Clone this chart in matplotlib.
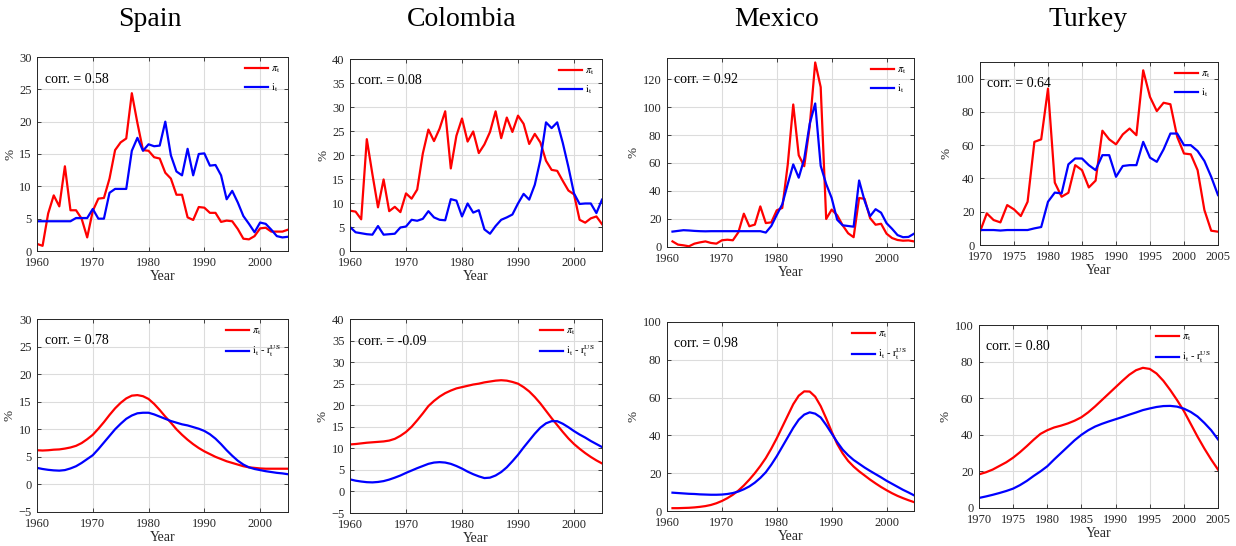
import matplotlib
matplotlib.use('Agg')
import matplotlib.pyplot as plt

plt.rcParams['font.family'] = ['Liberation Serif', 'DejaVu Serif']
plt.rcParams['mathtext.fontset'] = 'stix'

countries = ['Spain', 'Colombia', 'Mexico', 'Turkey']

# ---- top row: annual inflation (pi) and nominal rate (i) ----
years_60 = list(range(1960, 2006))
years_61 = list(range(1961, 2006))
years_70 = list(range(1970, 2006))

spain_pi = [1.1, 0.8, 5.8, 8.6, 6.9, 13.1, 6.3, 6.3, 5.0, 2.1, 6.2, 8.1, 8.2, 11.2, 15.6, 16.8,
            17.4, 24.4, 19.8, 15.6, 15.5, 14.5, 14.3, 12.1, 11.2, 8.7, 8.7, 5.2, 4.8, 6.8, 6.7,
            5.9, 5.9, 4.5, 4.7, 4.6, 3.4, 1.9, 1.8, 2.3, 3.5, 3.6, 3.0, 3.0, 3.0, 3.3]
spain_i = [4.6, 4.6, 4.6, 4.6, 4.6, 4.6, 4.6, 5.1, 5.1, 5.1, 6.5, 5.0, 5.0, 9.0, 9.6, 9.6,
           9.6, 15.5, 17.5, 15.5, 16.5, 16.2, 16.3, 20.0, 14.8, 12.3, 11.7, 15.8, 11.7, 15.0, 15.1,
           13.2, 13.3, 11.7, 8.0, 9.3, 7.5, 5.4, 4.2, 2.9, 4.4, 4.2, 3.3, 2.3, 2.1, 2.2]

colombia_pi = [8.4, 8.2, 6.6, 23.3, 16.0, 9.1, 14.9, 8.3, 9.2, 8.1, 12.0, 10.9, 12.8, 20.3, 25.3, 22.9,
               25.5, 29.1, 17.2, 24.0, 27.6, 22.8, 24.9, 20.4, 22.2, 24.8, 29.1, 23.5, 27.8, 24.8, 28.2,
               26.5, 22.3, 24.4, 22.6, 18.8, 16.9, 16.7, 14.6, 12.6, 11.8, 6.5, 5.9, 6.8, 7.2, 5.6]
colombia_i = [5.0, 3.9, 3.7, 3.5, 3.4, 5.2, 3.4, 3.5, 3.6, 4.9, 5.1, 6.5, 6.3, 6.7, 8.3, 7.0,
              6.5, 6.4, 10.8, 10.5, 7.2, 9.9, 8.0, 8.5, 4.5, 3.6, 5.2, 6.5, 7.0, 7.6, 9.9,
              11.9, 10.7, 13.8, 19.0, 26.8, 25.6, 26.8, 22.5, 17.5, 12.0, 9.8, 9.9, 9.9, 7.9, 10.7]

mexico_pi = [4.0, 1.7, 1.2, 0.5, 2.4, 3.3, 4.0, 2.9, 2.4, 4.8, 5.2, 4.8, 10.5, 23.8, 14.8,
             16.0, 29.0, 17.1, 17.6, 26.2, 27.9, 58.9, 101.8, 65.5, 57.7, 86.2, 131.8, 114.2, 20.0, 26.7,
             22.7, 15.5, 9.8, 7.0, 35.0, 34.4, 20.6, 15.9, 16.6, 9.5, 6.4, 5.0, 4.5, 4.7, 4.0]
mexico_i = [11.0, 11.5, 12.0, 11.8, 11.5, 11.3, 11.2, 11.3, 11.3, 11.3, 11.3, 11.3, 11.3, 11.3, 11.3,
            11.3, 11.3, 10.3, 15.0, 23.0, 30.5, 45.0, 59.0, 49.5, 63.0, 88.0, 102.5, 58.0, 45.0, 35.0,
            19.5, 15.5, 15.0, 14.5, 47.5, 33.0, 22.0, 27.0, 24.5, 17.0, 13.0, 8.5, 7.0, 7.2, 9.5]

turkey_pi = [8.0, 19.0, 15.0, 13.6, 24.0, 21.4, 17.4, 26.0, 62.0, 63.5, 94.0, 37.5, 29.0, 31.4, 48.0,
             45.0, 34.6, 38.7, 68.7, 63.5, 60.5, 66.5, 70.0, 66.0, 105.0, 89.0, 80.5, 85.5, 84.6, 65.0,
             55.0, 54.5, 45.0, 21.0, 8.6, 8.0]
turkey_i = [9.0, 9.0, 9.0, 8.7, 9.0, 9.0, 9.0, 9.0, 10.0, 10.8, 26.0, 31.5, 31.0, 48.5, 52.0,
            52.0, 48.0, 45.0, 54.0, 54.0, 41.0, 47.5, 48.0, 48.0, 62.0, 52.5, 50.0, 57.5, 67.0, 67.0,
            60.0, 60.0, 56.5, 50.5, 41.0, 30.0]

top_corr = ['0.58', '0.08', '0.92', '0.64']

# ---- bottom row: smoothed inflation and i - r^US ----
spain_pi_s = [6.2, 6.15, 6.2, 6.3, 6.35, 6.5, 6.7, 7.0, 7.5, 8.2, 9.0, 10.1, 11.3, 12.6, 13.8, 14.8,
              15.6, 16.1, 16.2, 16.0, 15.5, 14.6, 13.5, 12.3, 11.2, 10.0, 9.0, 8.1, 7.3, 6.6, 6.0,
              5.5, 5.0, 4.6, 4.2, 3.9, 3.6, 3.3, 3.1, 3.0, 2.9, 2.85, 2.85, 2.85, 2.85, 2.85]
spain_r_s = [3.0, 2.8, 2.65, 2.55, 2.5, 2.6, 2.9, 3.3, 3.9, 4.6, 5.3, 6.4, 7.6, 8.8, 10.0, 11.0,
             11.9, 12.5, 12.9, 13.0, 13.0, 12.7, 12.3, 11.9, 11.5, 11.2, 10.9, 10.7, 10.4, 10.1, 9.7,
             9.1, 8.3, 7.3, 6.2, 5.2, 4.3, 3.6, 3.1, 2.8, 2.6, 2.4, 2.25, 2.1, 2.0, 1.85]

colombia_pi_s = [10.9, 11.0, 11.15, 11.3, 11.4, 11.5, 11.6, 11.8, 12.2, 12.9, 13.8, 15.0, 16.5, 18.1, 19.8, 21.0,
                 22.0, 22.8, 23.4, 23.9, 24.2, 24.5, 24.8, 25.0, 25.3, 25.5, 25.7, 25.8, 25.7, 25.4, 25.0,
                 24.2, 23.2, 21.9, 20.4, 18.7, 17.0, 15.4, 13.8, 12.3, 11.0, 9.9, 8.9, 8.0, 7.2, 6.5]
colombia_r_s = [2.8, 2.5, 2.3, 2.15, 2.1, 2.2, 2.4, 2.75, 3.2, 3.7, 4.3, 4.85, 5.4, 5.9, 6.4, 6.7,
                6.8, 6.7, 6.4, 5.9, 5.3, 4.6, 4.0, 3.5, 3.1, 3.2, 3.7, 4.5, 5.6, 7.0, 8.5,
                10.2, 11.8, 13.4, 14.8, 15.8, 16.3, 16.3, 15.7, 14.9, 14.0, 13.2, 12.5, 11.7, 11.0, 10.3]

mexico_pi_s = [1.5, 1.5, 1.6, 1.7, 1.9, 2.2, 2.6, 3.2, 4.1, 5.3, 6.8, 8.6, 10.8, 13.5, 16.6,
               20.0, 23.8, 28.0, 33.0, 38.5, 44.5, 50.5, 56.5, 61.0, 63.3, 63.2, 60.5, 55.5, 49.0, 42.0,
               35.5, 30.5, 26.5, 23.5, 21.0, 18.8, 16.6, 14.6, 12.7, 11.0, 9.4, 8.0, 6.8, 5.7, 4.7]
mexico_r_s = [9.7, 9.5, 9.3, 9.1, 9.0, 8.8, 8.7, 8.6, 8.6, 8.7, 9.0, 9.5, 10.3, 11.5, 13.0,
              15.0, 17.5, 20.5, 24.5, 29.0, 34.0, 39.0, 44.0, 48.3, 51.0, 52.2, 51.5, 49.5, 45.5, 41.0,
              36.5, 32.5, 29.5, 27.0, 25.0, 23.0, 21.2, 19.5, 17.8, 16.0, 14.4, 12.8, 11.2, 9.8, 8.3]

turkey_pi_s = [18.4, 19.5, 21.0, 23.0, 25.0, 27.5, 30.5, 33.8, 37.3, 40.5, 42.5, 44.0, 45.0, 46.2, 47.7,
               49.6, 52.3, 55.5, 59.0, 62.5, 66.0, 69.5, 72.8, 75.3, 76.6, 76.0, 73.5, 69.5, 64.5, 59.0,
               53.0, 46.0, 39.0, 32.5, 26.5, 21.0]
turkey_r_s = [5.5, 6.3, 7.2, 8.2, 9.3, 10.6, 12.5, 14.8, 17.5, 20.0, 22.8, 26.5, 30.0, 33.5, 37.0,
              40.0, 42.5, 44.5, 46.0, 47.3, 48.5, 49.7, 51.0, 52.2, 53.5, 54.4, 55.2, 55.7, 55.8, 55.4,
              54.3, 52.5, 50.0, 46.5, 42.5, 37.5]

bottom_corr = ['0.78', '-0.09', '0.98', '0.80']

top_data = [(years_60, spain_pi, spain_i), (years_60, colombia_pi, colombia_i),
            (years_61, mexico_pi, mexico_i), (years_70, turkey_pi, turkey_i)]
bottom_data = [(years_60, spain_pi_s, spain_r_s), (years_60, colombia_pi_s, colombia_r_s),
               (years_61, mexico_pi_s, mexico_r_s), (years_70, turkey_pi_s, turkey_r_s)]

# axes boxes in pixels: left, top, right, bottom
W, H = 1236, 546
top_boxes = [(37, 57, 288, 251), (350, 59, 602, 251), (667, 58, 914, 247), (980, 62, 1218, 245)]
bottom_boxes = [(37, 319, 288, 512), (350, 319, 602, 513), (667, 322, 914, 511), (979, 325, 1218, 508)]
title_x = [150, 462, 777, 1088]

top_ylim = [(0, 30, 5), (0, 40, 5), (0, 135, 20), (0, 110, 20)]
bottom_ylim = [(-5, 30, 5), (-5, 40, 5), (0, 100, 20), (0, 100, 20)]
xlims = [(1960, 2005, 10), (1960, 2005, 10), (1960, 2005, 10), (1970, 2005, 5)]

fig = plt.figure(figsize=(W / 100, H / 100), dpi=100)


def make_axes(box):
    l, t, r, b = box
    return fig.add_axes([l / W, (H - b) / H, (r - l) / W, (b - t) / H])


def style_axes(ax, ylim, xlim):
    y0, y1, ys = ylim
    x0, x1, xs = xlim
    ax.set_xlim(x0, x1)
    ax.set_ylim(y0, y1)
    ax.set_xticks(range(x0, x1 + 1, xs))
    ax.set_yticks(range(y0, y1 + 1, ys))
    ax.grid(True, color='#dcdcdc', lw=0.8)
    ax.set_axisbelow(True)
    ax.tick_params(direction='in', length=3, width=0.6, top=True, right=True,
                   labelsize=9, colors='#262626')
    ax.tick_params(axis='x', pad=4)
    ax.tick_params(axis='y', pad=4)
    for s in ax.spines.values():
        s.set_color('#262626')
        s.set_linewidth(0.7)
    ax.set_xlabel('Year', fontsize=10, color='#262626', labelpad=1)
    ax.set_ylabel('%', fontsize=9.5, color='#262626', labelpad=2)


for k in range(4):
    # top
    ax = make_axes(top_boxes[k])
    yrs, pi, ii = top_data[k]
    ax.plot(yrs, pi, color='red', lw=1.6, label=r'$\pi_{\rm t}$')
    ax.plot(yrs, ii, color='blue', lw=1.6, label=r'$\mathrm{i}_{\rm t}$')
    style_axes(ax, top_ylim[k], xlims[k])
    ax.text(0.03, 0.92, 'corr. = ' + top_corr[k], transform=ax.transAxes,
            fontsize=10, va='top', ha='left')
    ax.legend(loc='upper right', fontsize=7.5, frameon=False, handlelength=2.2,
              handletextpad=0.3, borderaxespad=0.3, labelspacing=0.6)
    fig.text(title_x[k] / W, 1 - 20 / H, countries[k], fontsize=20, ha='center', va='center')

    # bottom
    ax = make_axes(bottom_boxes[k])
    yrs, pi, rr = bottom_data[k]
    ax.plot(yrs, pi, color='red', lw=1.6, label=r'$\pi_{\rm t}$')
    ax.plot(yrs, rr, color='blue', lw=1.6, label=r'$\mathrm{i}_{\rm t}$ - $\mathrm{r}_{\rm t}^{\rm US}$')
    style_axes(ax, bottom_ylim[k], xlims[k])
    ax.text(0.03, 0.92, 'corr. = ' + bottom_corr[k], transform=ax.transAxes,
            fontsize=10, va='top', ha='left')
    ax.legend(loc='upper right', fontsize=7.5, frameon=False, handlelength=2.2,
              handletextpad=0.3, borderaxespad=0.3, labelspacing=0.6)

fig.savefig('out.png', dpi=100)
